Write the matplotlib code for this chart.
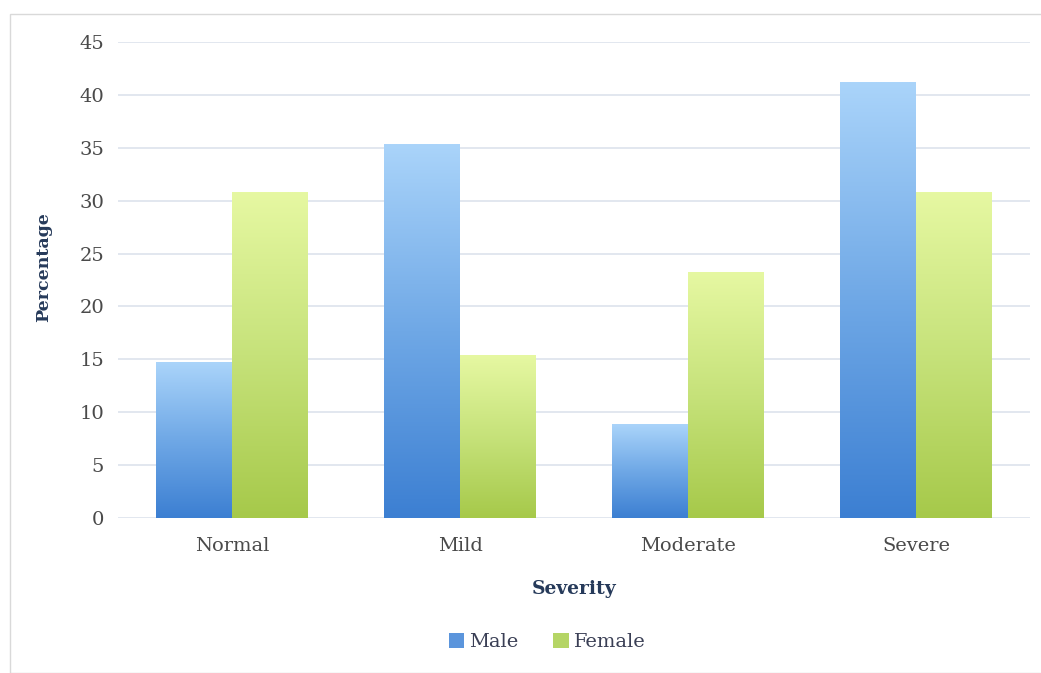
import numpy as np
import matplotlib
matplotlib.use("Agg")
import matplotlib.pyplot as plt
from matplotlib.colors import LinearSegmentedColormap
from matplotlib.patches import Rectangle

categories = ["Normal", "Mild", "Moderate", "Severe"]
male = [14.7, 35.3, 8.8, 41.2]
female = [30.8, 15.4, 23.2, 30.8]
series_names = ["Male", "Female"]
y_ticks = [0, 5, 10, 15, 20, 25, 30, 35, 40, 45]

plt.rcParams["font.family"] = ["DejaVu Serif"]

fig = plt.figure(figsize=(10.41, 6.73), dpi=100)
fig.patch.set_facecolor("white")
fig.add_artist(Rectangle((10 / 1041, 0.0), 1.2, 1 - 14 / 673, transform=fig.transFigure,
                         facecolor="none", edgecolor="#d9d9d9", linewidth=1.0))

ax = fig.add_axes([118 / 1041, 1 - 518 / 673, (1030 - 118) / 1041, (518 - 42) / 673])

blue_cmap = LinearSegmentedColormap.from_list("blue_grad", ["#3c7fd2", "#6fa8e6", "#aad4fa"])
green_cmap = LinearSegmentedColormap.from_list("green_grad", ["#a6c94a", "#c6e27a", "#e6f8a2"])

x = np.arange(len(categories))
w = 1 / 3
bars_m = ax.bar(x - w / 2, male, width=w, color="none", zorder=3)
bars_f = ax.bar(x + w / 2, female, width=w, color="none", zorder=3)

# vertical gradient fill inside each bar
grad = np.linspace(0, 1, 256).reshape(-1, 1)
for bars, cmap in ((bars_m, blue_cmap), (bars_f, green_cmap)):
    for b in bars:
        x0, x1 = b.get_x(), b.get_x() + b.get_width()
        h = b.get_height()
        ax.imshow(grad, cmap=cmap, origin="lower", aspect="auto",
                  extent=[x0, x1, 0, h], zorder=3, interpolation="bilinear")

ax.set_xlim(-0.5, len(categories) - 0.5)
ax.set_ylim(0, 45)
ax.set_yticks(y_ticks)
ax.set_xticks(x)
ax.set_xticklabels(categories)
ax.tick_params(axis="both", length=0, labelsize=14, colors="#4a4a4a")
ax.tick_params(axis="y", pad=10)
ax.tick_params(axis="x", pad=14)
ax.yaxis.grid(True, color="#dde3ec", linewidth=1.2, zorder=0)
ax.set_axisbelow(True)
for s in ax.spines.values():
    s.set_visible(False)

ax.set_xlabel("Severity", fontsize=13.5, fontweight="bold", color="#263a5a", labelpad=18)
ax.set_ylabel("Percentage", fontsize=12.5, fontweight="bold", color="#263a5a")
ax.yaxis.set_label_coords(-0.072, 0.527)

handles = [Rectangle((0, 0), 1, 1, facecolor="#5b95dc"),
           Rectangle((0, 0), 1, 1, facecolor="#b5d565")]
fig.legend(handles, series_names, loc="center", bbox_to_anchor=(547 / 1041, 1 - 642 / 673),
           ncol=2, frameon=False, fontsize=14, handlelength=0.8, handleheight=0.8,
           handletextpad=0.25, columnspacing=1.8, labelcolor="#3a3f55")

fig.savefig("out.png", dpi=100)
